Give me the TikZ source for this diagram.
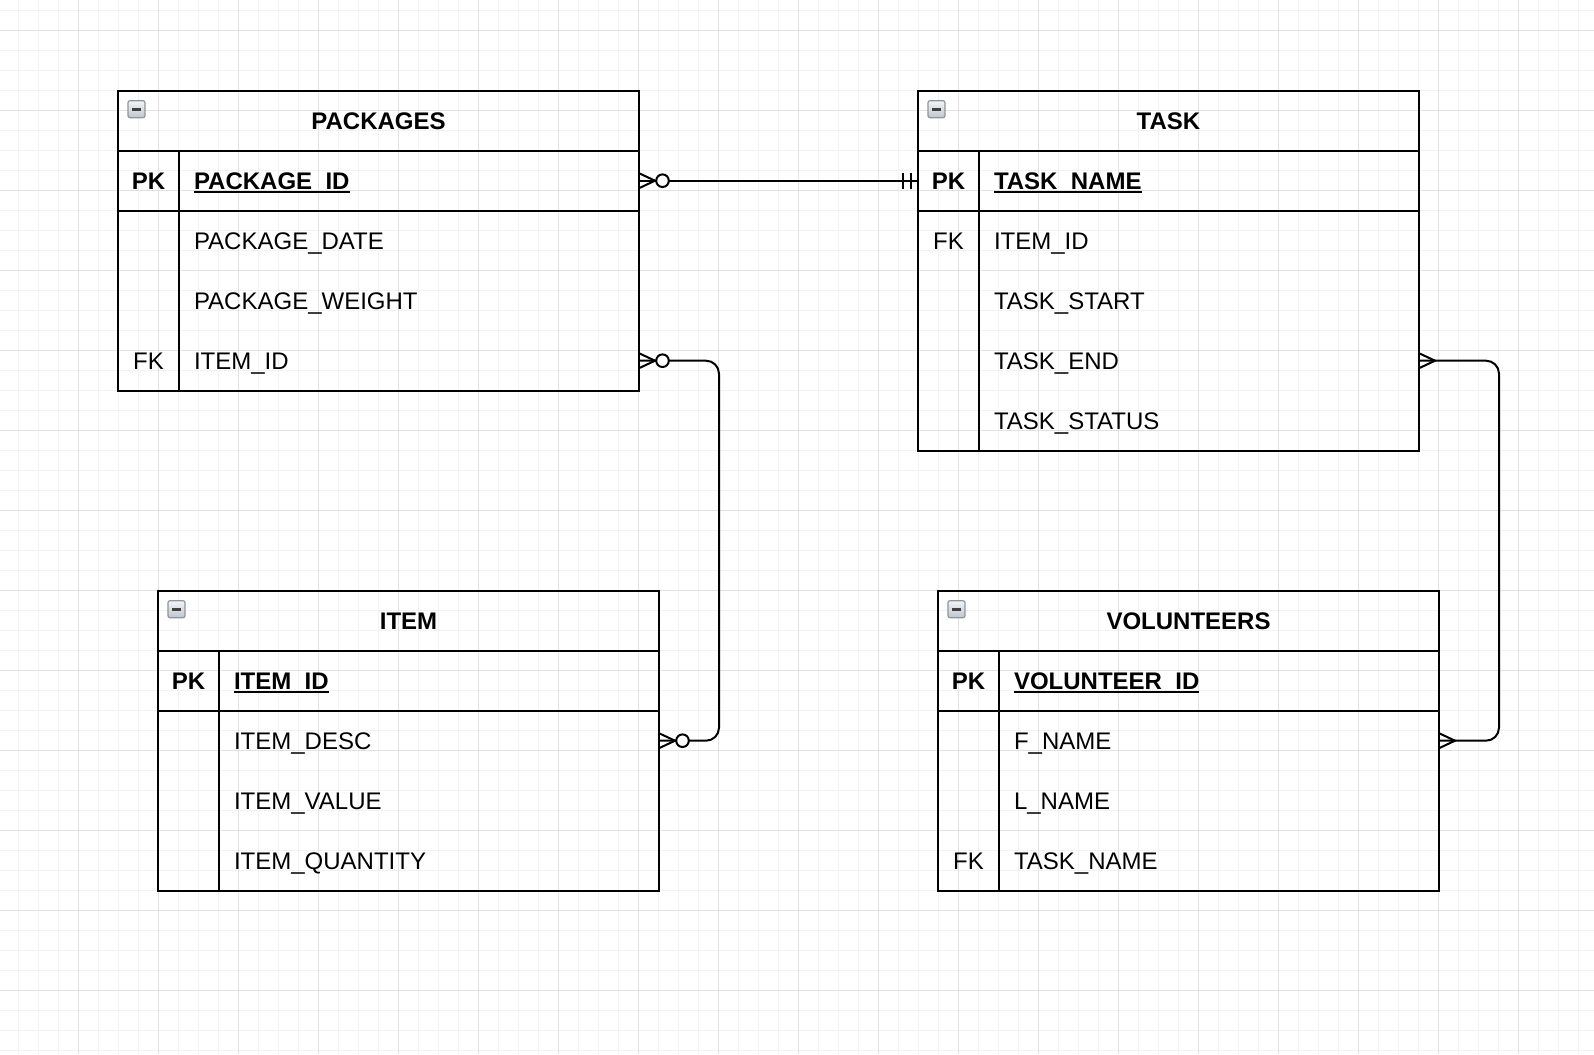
\documentclass[tikz,border=0pt]{standalone}
\usepackage{fontspec}
\setmainfont{Liberation Sans}
\definecolor{minorgrid}{HTML}{F2F2F2}
\definecolor{majorgrid}{HTML}{E1E1E1}
\definecolor{iconborder}{HTML}{8A97A3}
\definecolor{icontop}{HTML}{F4F4F4}
\definecolor{iconbottom}{HTML}{BFC6CC}
\newcommand{\erfont}{\fontsize{24}{29}\selectfont}
\begin{document}
\begin{tikzpicture}[x=1pt,y=-1pt,
  tbl/.style={draw=black, line width=2pt, inner sep=0pt, outer sep=0pt, anchor=north west},
  sepline/.style={line width=2pt},
  txt/.style={font=\erfont, inner sep=0pt, outer sep=0pt, text height=17.5pt, text depth=0pt},
  ttl/.style={txt, font=\erfont\bfseries, anchor=center},
  keyc/.style={txt, anchor=center},
  pkeyc/.style={txt, font=\erfont\bfseries, anchor=center},
  fld/.style={txt, anchor=west},
  pfld/.style={txt, font=\erfont\bfseries, anchor=west},
  uline/.style={line width=1.8pt},
  conn/.style={line width=2pt, rounded corners=13pt},
  zeromany/.pic={
    \draw[line width=2pt, line join=round] (0,-7.5) -- (16,0) -- (0,7.5);
    \draw[line width=2pt, fill=white] (23.5,0) circle (6.3);
  },
  many/.pic={
    \draw[line width=2pt, line join=round] (0,-7.5) -- (16,0) -- (0,7.5);
  },
  onlyone/.pic={
    \draw[line width=2pt] (-15,-8) -- (-15,8) (-7,-8) -- (-7,8);
  },
  minusicon/.pic={
    \draw[draw=iconborder, line width=1.2pt, rounded corners=2pt, top color=icontop, bottom color=iconbottom] (0,0) rectangle (17,17);
    \fill[black!75] (3.8,7) rectangle (13.2,10);
  }
]
\useasboundingbox (0,0) rectangle (1594,1054);
\fill[white] (0,0) rectangle (1594,1054);
% grid
\foreach \x in {18,38,...,1594} \draw[minorgrid, line width=1pt] (\x,0) -- (\x,1054);
\foreach \y in {10.5,30.5,...,1054} \draw[minorgrid, line width=1pt] (0,\y) -- (1594,\y);
\foreach \x in {78,158,...,1594} \draw[majorgrid, line width=1pt] (\x,0) -- (\x,1054);
\foreach \y in {30.5,110.5,...,1054} \draw[majorgrid, line width=1pt] (0,\y) -- (1594,\y);

% ---------- PACKAGES ----------
\node[tbl, minimum width=521pt, minimum height=300pt] (pkg) at (118,90.7) {};
\draw[sepline] (118,150.7) -- (639,150.7) (118,210.7) -- (639,210.7) (179,150.7) -- (179,390.7);
\pic at (128,100.7) {minusicon};
\node[ttl] (pkg-title) at (378.5,120.7) {PACKAGES};
\node[pkeyc] (pkg-pk) at (148.5,180.7) {PK};
\node[pfld] (pkg-id) at (194,180.7) {PACKAGE\_ID};
\draw[uline] ([yshift=-2.5pt]pkg-id.base west) -- ([yshift=-2.5pt]pkg-id.base east);
\node[fld] (pkg-date) at (194,240.7) {PACKAGE\_DATE};
\node[fld] (pkg-weight) at (194,300.7) {PACKAGE\_WEIGHT};
\node[keyc] (pkg-fk) at (148.5,360.7) {FK};
\node[fld] (pkg-item) at (194,360.7) {ITEM\_ID};

% ---------- TASK ----------
\node[tbl, minimum width=501pt, minimum height=360pt] (task) at (918,90.7) {};
\draw[sepline] (918,150.7) -- (1419,150.7) (918,210.7) -- (1419,210.7) (979,150.7) -- (979,450.7);
\pic at (928,100.7) {minusicon};
\node[ttl] (task-title) at (1168.5,120.7) {TASK};
\node[pkeyc] (task-pk) at (948.5,180.7) {PK};
\node[pfld] (task-name) at (994,180.7) {TASK\_NAME};
\draw[uline] ([yshift=-2.5pt]task-name.base west) -- ([yshift=-2.5pt]task-name.base east);
\node[keyc] (task-fk) at (948.5,240.7) {FK};
\node[fld] (task-item) at (994,240.7) {ITEM\_ID};
\node[fld] (task-start) at (994,300.7) {TASK\_START};
\node[fld] (task-end) at (994,360.7) {TASK\_END};
\node[fld] (task-status) at (994,420.7) {TASK\_STATUS};

% ---------- ITEM ----------
\node[tbl, minimum width=501pt, minimum height=300pt] (item) at (158,590.7) {};
\draw[sepline] (158,650.7) -- (659,650.7) (158,710.7) -- (659,710.7) (219,650.7) -- (219,890.7);
\pic at (168,600.7) {minusicon};
\node[ttl] (item-title) at (408.5,620.7) {ITEM};
\node[pkeyc] (item-pk) at (188.5,680.7) {PK};
\node[pfld] (item-id) at (234,680.7) {ITEM\_ID};
\draw[uline] ([yshift=-2.5pt]item-id.base west) -- ([yshift=-2.5pt]item-id.base east);
\node[fld] (item-desc) at (234,740.7) {ITEM\_DESC};
\node[fld] (item-value) at (234,800.7) {ITEM\_VALUE};
\node[fld] (item-qty) at (234,860.7) {ITEM\_QUANTITY};

% ---------- VOLUNTEERS ----------
\node[tbl, minimum width=501pt, minimum height=300pt] (vol) at (938,590.7) {};
\draw[sepline] (938,650.7) -- (1439,650.7) (938,710.7) -- (1439,710.7) (999,650.7) -- (999,890.7);
\pic at (948,600.7) {minusicon};
\node[ttl] (vol-title) at (1188.5,620.7) {VOLUNTEERS};
\node[pkeyc] (vol-pk) at (968.5,680.7) {PK};
\node[pfld] (vol-id) at (1014,680.7) {VOLUNTEER\_ID};
\draw[uline] ([yshift=-2.5pt]vol-id.base west) -- ([yshift=-2.5pt]vol-id.base east);
\node[fld] (vol-fname) at (1014,740.7) {F\_NAME};
\node[fld] (vol-lname) at (1014,800.7) {L\_NAME};
\node[keyc] (vol-fk) at (968.5,860.7) {FK};
\node[fld] (vol-task) at (1014,860.7) {TASK\_NAME};

% ---------- connectors ----------
\draw[conn] (pkg.east |- pkg-id) -- (task.west |- task-name);
\draw[conn] (pkg.east |- pkg-item) -- ++(80,0) |- (item.east |- item-desc);
\draw[conn] (task.east |- task-end) -- ++(80,0) |- (vol.east |- vol-fname);

\pic at (pkg.east |- pkg-id) {zeromany};
\pic at (task.west |- task-name) {onlyone};
\pic at (pkg.east |- pkg-item) {zeromany};
\pic at (item.east |- item-desc) {zeromany};
\pic at (task.east |- task-end) {many};
\pic at (vol.east |- vol-fname) {many};
\end{tikzpicture}
\end{document}
